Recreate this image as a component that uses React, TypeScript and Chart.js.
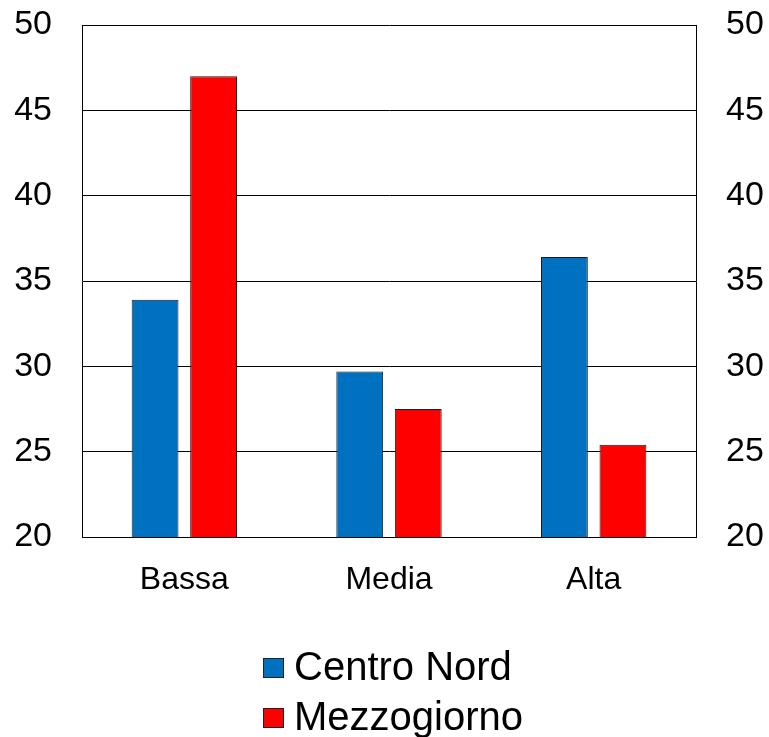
import { useEffect, useRef } from "react";
import { Chart, registerables } from "chart.js";

Chart.register(...registerables);

const categories = ["Bassa", "Media", "Alta"];
const centroNord = [33.9, 29.7, 36.4];
const mezzogiorno = [47.0, 27.5, 25.4];
const seriesNames = ["Centro Nord", "Mezzogiorno"];
const seriesColors = ["#0070C0", "#FF0000"];
const yMin = 20;
const yMax = 50;
const yStep = 5;

const FONT = "'Liberation Sans', Arial, sans-serif";

// Legend stacked in two left-aligned rows below the x labels
const stackedLegend = {
  id: "stackedLegend",
  afterDraw(chart: any) {
    const ctx = chart.ctx as CanvasRenderingContext2D;
    const area = chart.chartArea;
    ctx.save();
    ctx.font = `40px ${FONT}`;
    const items = chart.data.datasets.map((ds: any) => ({
      label: ds.label as string,
      fill: ds.backgroundColor as string,
    }));
    const box = 20;
    const gap = 11;
    const textW = Math.max(...items.map((i: any) => ctx.measureText(i.label).width));
    const total = box + gap + textW;
    const cx = (area.left + area.right) / 2;
    const x0 = cx - total / 2 + 4;
    items.forEach((it: any, i: number) => {
      const cy = area.bottom + 131 + i * 50;
      ctx.fillStyle = it.fill;
      ctx.fillRect(x0, cy - box / 2, box + 1, box);
      ctx.strokeStyle = "#222";
      ctx.lineWidth = 1;
      ctx.strokeRect(x0 + 0.5, cy - box / 2 + 0.5, box, box - 1);
      ctx.fillStyle = "#000";
      ctx.textBaseline = "middle";
      ctx.textAlign = "left";
      ctx.fillText(it.label, x0 + box + gap, cy + 1);
    });
    ctx.restore();
  },
};

export default function App() {
  const ref = useRef<HTMLCanvasElement | null>(null);

  useEffect(() => {
    if (!ref.current) return;
    const tickFont = { family: FONT, size: 34 };
    const chart = new Chart(ref.current, {
      type: "bar",
      data: {
        labels: categories,
        datasets: [
          {
            label: seriesNames[0],
            data: centroNord,
            backgroundColor: seriesColors[0],
            borderColor: "#1a1a1a",
            borderWidth: 1,
            barPercentage: 0.8,
            categoryPercentage: 0.572,
            yAxisID: "y",
          },
          {
            label: seriesNames[1],
            data: mezzogiorno,
            backgroundColor: seriesColors[1],
            borderColor: "#1a1a1a",
            borderWidth: 1,
            barPercentage: 0.8,
            categoryPercentage: 0.572,
            yAxisID: "y",
          },
        ],
      },
      options: {
        responsive: false,
        animation: false,
        devicePixelRatio: 1,
        layout: { padding: { top: 25, left: 0, right: 0, bottom: 0 } },
        plugins: {
          legend: { display: false },
          tooltip: { enabled: false },
        },
        scales: {
          x: {
            grid: { display: false },
            border: { display: true, color: "#000", width: 1 },
            ticks: { color: "#000", font: { family: FONT, size: 32 }, padding: 16 },
            afterFit(scale: any) {
              scale.height = 200;
            },
          },
          y: {
            position: "left",
            min: yMin,
            max: yMax,
            grid: { color: "#000", lineWidth: 1, drawTicks: false },
            border: { display: true, color: "#000", width: 1 },
            ticks: { stepSize: yStep, color: "#000", font: tickFont, padding: 30 },
            afterFit(scale: any) {
              scale.width = 82;
              scale.paddingTop = 0;
              scale.paddingBottom = 0;
            },
          },
          y2: {
            position: "right",
            min: yMin,
            max: yMax,
            grid: { display: false, drawTicks: false },
            border: { display: true, color: "#000", width: 1 },
            ticks: { stepSize: yStep, color: "#000", font: tickFont, padding: 30 },
            afterFit(scale: any) {
              scale.width = 73;
              scale.paddingTop = 0;
              scale.paddingBottom = 0;
            },
          },
        },
      },
      plugins: [stackedLegend],
    });
    return () => chart.destroy();
  }, []);

  return (
    <div style={{ position: "absolute", left: 0, top: 0, width: 769, height: 737, background: "#fff" }}>
      <canvas ref={ref} width={769} height={737} style={{ display: "block" }} />
    </div>
  );
}
